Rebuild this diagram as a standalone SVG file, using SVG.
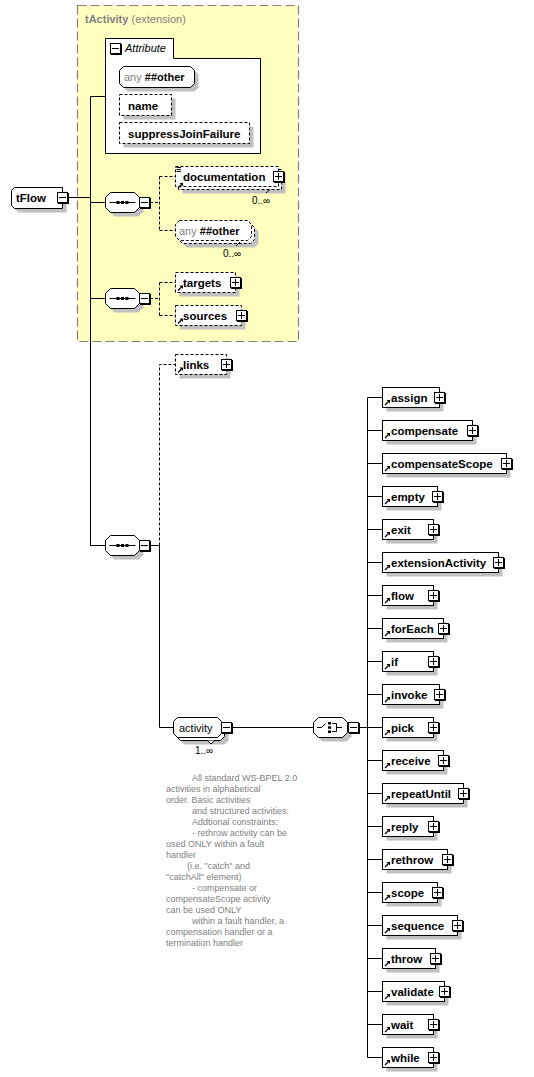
<svg xmlns="http://www.w3.org/2000/svg" xmlns:xlink="http://www.w3.org/1999/xlink" width="534" height="1077" viewBox="0 0 534 1077">
<style>
  text { font-family: "Liberation Sans", Arial, sans-serif; }
  .en { font-size: 11.5px; font-weight: bold; fill: #000; }
  .nm { font-size: 11px; fill: #000; }
  .gr { fill: #808080; }
  .occ { font-size: 10px; fill: #000; }
  .cm { font-size: 9px; fill: #808080; }
  .box { fill: #fff; stroke: #000; stroke-width: 1; }
  .dbox { fill: #fff; stroke: #000; stroke-width: 1; stroke-dasharray: 3,2; }
  .sh { fill: #c0c0c0; stroke: none; }
  .ln { fill: none; stroke: #000; stroke-width: 1; }
  .dl { fill: none; stroke: #000; stroke-width: 1; stroke-dasharray: 3,2; }
</style>
<defs>
  <g id="plus"><rect x="1" y="1" width="11" height="11" fill="#000"/><rect x="0.5" y="0.5" width="10" height="10" fill="#fff" stroke="#000"/><path d="M2,5.5H9M5.5,2V9" stroke="#000" fill="none"/></g>
  <g id="minus"><rect x="1" y="1" width="11" height="11" fill="#000"/><rect x="0.5" y="0.5" width="10" height="10" fill="#fff" stroke="#000"/><path d="M2,5.5H9" stroke="#000" fill="none"/></g>
  <g id="arr"><path d="M1,6.5L4.5,3" stroke="#000" stroke-width="1.2" fill="none"/><path d="M2.5,1.5H6V5Z" fill="#000"/></g>
  <g id="seq">
    <path class="sh" transform="translate(4,4)" d="M5,-10H29L34,-5V5L29,10H5L0,5V-5Z"/>
    <path class="box" d="M5,-10H29L34,-5V5L29,10H5L0,5V-5Z"/>
    <path class="ln" d="M4,0H30"/>
    <rect x="11" y="-1.5" width="3" height="3" fill="#000"/>
    <rect x="15.5" y="-1.5" width="3" height="3" fill="#000"/>
    <rect x="20" y="-1.5" width="3" height="3" fill="#000"/>
    <use xlink:href="#minus" x="33.5" y="-5.5"/>
  </g>
</defs>

<!-- tActivity extension area -->
<g id="tActivity">
  <rect x="77.5" y="5.5" width="221" height="336" fill="#ffffc0" stroke="#808080" stroke-width="1.2" stroke-dasharray="9,4"/>
  <text x="85" y="22.5" font-size="11px" class="gr"><tspan font-weight="bold">tActivity</tspan> (extension)</text>
</g>

<!-- connectors -->
<g id="connectors">
  <path class="ln" d="M68,197.5H90.5M90.5,96.5V545.5M90.5,96.5H105.5M90.5,202.5H105.5M90.5,298.5H105.5M90.5,545.5H105.5"/>
  <path class="dl" d="M150,202.5H159.5M159.5,176.5V230.5M159.5,176.5H175.5M159.5,230.5H175.5"/>
  <path class="dl" d="M150,298.5H159.5M159.5,282.5V315.5M159.5,282.5H175.5M159.5,315.5H175.5"/>
  <path class="dl" d="M159.5,545.5V364.5H175.5"/>
  <path class="ln" d="M150,545.5H159.5V727.5H173.5M232,727.5H313.5M359,727.5H367.5M367.5,397.5V1057.5"/>
  <path class="ln" d="M367.5,397.5H382.5M367.5,430.5H382.5M367.5,463.5H382.5M367.5,496.5H382.5M367.5,529.5H382.5M367.5,562.5H382.5M367.5,595.5H382.5M367.5,628.5H382.5M367.5,661.5H382.5M367.5,694.5H382.5M367.5,727.5H382.5M367.5,760.5H382.5M367.5,793.5H382.5M367.5,826.5H382.5M367.5,859.5H382.5M367.5,892.5H382.5M367.5,925.5H382.5M367.5,958.5H382.5M367.5,991.5H382.5M367.5,1024.5H382.5M367.5,1057.5H382.5"/>
</g>

<!-- root -->
<g id="tFlow">
  <path class="sh" transform="translate(4,4)" d="M14.5,187.5H62.5V208.5H14.5L11.5,205.5V190.5Z"/>
  <path class="box" d="M14.5,187.5H62.5V208.5H14.5L11.5,205.5V190.5Z"/>
  <text class="en" x="16" y="202">tFlow</text>
  <use xlink:href="#minus" x="57" y="192"/>
</g>

<!-- attributes -->
<g id="attributes">
  <path class="box" d="M105.5,58.5V38.5H173.5V58.5H260.5V153.5H105.5Z"/>
  <use xlink:href="#minus" x="110" y="43"/>
  <text x="125" y="52" font-size="11px" font-style="italic" fill="#000">Attribute</text>
</g>
<g id="attr-any">
  <path class="sh" transform="translate(4,4)" d="M123.5,66.5H190.5L194.5,70.5V83.5L190.5,87.5H123.5L119.5,83.5V70.5Z"/>
  <path class="box" d="M123.5,66.5H190.5L194.5,70.5V83.5L190.5,87.5H123.5L119.5,83.5V70.5Z"/>
  <text x="124" y="81" font-size="11px"><tspan class="gr">any</tspan> <tspan font-weight="bold" fill="#000">##other</tspan></text>
</g>
<g id="attr-name">
  <rect class="sh" x="123.5" y="98.5" width="52" height="21"/>
  <rect class="dbox" x="119.5" y="94.5" width="52" height="21"/>
  <text class="en" x="128" y="109.5">name</text>
</g>
<g id="attr-suppressJoinFailure">
  <rect class="sh" x="123.5" y="126.5" width="130" height="21"/>
  <rect class="dbox" x="119.5" y="122.5" width="130" height="21"/>
  <text class="en" x="128" y="137.5">suppressJoinFailure</text>
</g>

<!-- sequence 1 -->
<g id="seq1"><use xlink:href="#seq" transform="translate(105.5,202.5)"/></g>
<g id="documentation">
  <rect class="sh" x="182.5" y="173.5" width="103" height="20"/>
  <rect class="dbox" x="178.5" y="169.5" width="103" height="20"/>
  <rect class="dbox" x="175.5" y="166.5" width="103" height="20"/>
  <path class="ln" d="M176.5,167.5H181M176.5,169.5H181M176.5,171.5H181"/>
  <use xlink:href="#arr" x="177" y="181.5"/>
  <text class="en" x="183" y="181">documentation</text>
  <use xlink:href="#plus" x="273" y="171"/>
  <path class="ln" d="M266,193L270,189.5"/>
  <text class="occ" x="252" y="203.5">0..∞</text>
</g>
<g id="any-other">
  <path class="sh" transform="translate(7,7)" d="M179.5,220.5H247.5L251.5,224.5V236.5L247.5,240.5H179.5L175.5,236.5V224.5Z"/>
  <path class="dbox" transform="translate(3,3)" d="M179.5,220.5H247.5L251.5,224.5V236.5L247.5,240.5H179.5L175.5,236.5V224.5Z"/>
  <path class="dbox" d="M179.5,220.5H247.5L251.5,224.5V236.5L247.5,240.5H179.5L175.5,236.5V224.5Z"/>
  <text x="179" y="234.5" font-size="11px"><tspan class="gr">any</tspan> <tspan font-weight="bold" fill="#000">##other</tspan></text>
  <path class="ln" d="M236,246L240,242"/>
  <text class="occ" x="223" y="256.5">0..∞</text>
</g>

<!-- sequence 2 -->
<g id="seq2"><use xlink:href="#seq" transform="translate(105.5,298.5)"/></g>
<g id="targets">
  <rect class="sh" x="179.5" y="276.5" width="60" height="20"/>
  <rect class="dbox" x="175.5" y="272.5" width="60" height="20"/>
  <use xlink:href="#arr" x="177" y="284"/>
  <text class="en" x="183" y="287">targets</text>
  <use xlink:href="#plus" x="230" y="277"/>
</g>
<g id="sources">
  <rect class="sh" x="179.5" y="309.5" width="66" height="20"/>
  <rect class="dbox" x="175.5" y="305.5" width="66" height="20"/>
  <use xlink:href="#arr" x="177" y="317"/>
  <text class="en" x="183" y="320">sources</text>
  <use xlink:href="#plus" x="236" y="310"/>
</g>

<!-- links -->
<g id="links">
  <rect class="sh" x="179.5" y="358.5" width="51" height="20"/>
  <rect class="dbox" x="175.5" y="354.5" width="51" height="20"/>
  <use xlink:href="#arr" x="177" y="366"/>
  <text class="en" x="183" y="369">links</text>
  <use xlink:href="#plus" x="221" y="359"/>
</g>

<!-- sequence 3 -->
<g id="seq3"><use xlink:href="#seq" transform="translate(105.5,545.5)"/></g>

<!-- activity group -->
<g id="activity">
  <path class="sh" transform="translate(7,7)" d="M177.5,717.5H217.5L221.5,721.5V733.5L217.5,737.5H177.5L173.5,733.5V721.5Z"/>
  <path class="box" transform="translate(3,3)" d="M177.5,717.5H217.5L221.5,721.5V733.5L217.5,737.5H177.5L173.5,733.5V721.5Z"/>
  <path class="box" d="M177.5,717.5H217.5L221.5,721.5V733.5L217.5,737.5H177.5L173.5,733.5V721.5Z"/>
  <text class="nm" x="179" y="731.5">activity</text>
  <use xlink:href="#minus" x="221" y="722"/>
  <path class="box" d="M207.5,740.5L211,744L214.5,740.5"/>
  <text class="occ" x="195" y="754">1..∞</text>
</g>

<!-- choice -->
<g id="choice">
  <path class="sh" transform="translate(4,4)" d="M318.5,717.5H342.5L347.5,722.5V732.5L342.5,737.5H318.5L313.5,732.5V722.5Z"/>
  <path class="box" d="M318.5,717.5H342.5L347.5,722.5V732.5L342.5,737.5H318.5L313.5,732.5V722.5Z"/>
  <path class="ln" d="M317,727.5H321.5L325.5,723.5M332,723.5H336.5V731.5H332M336.5,727.5H342"/>
  <rect x="328" y="722" width="3" height="2.5" fill="#000"/>
  <rect x="328" y="726.3" width="3" height="2.5" fill="#000"/>
  <rect x="328" y="730.5" width="3" height="2.5" fill="#000"/>
  <use xlink:href="#minus" x="348" y="722"/>
</g>

<!-- annotation -->
<g id="annotation">
  <text class="cm" x="192" y="781">All standard WS-BPEL 2.0</text>
  <text class="cm" x="166" y="792">activities in alphabetical</text>
  <text class="cm" x="166" y="803">order. Basic activities</text>
  <text class="cm" x="192" y="814">and structured activities.</text>
  <text class="cm" x="192" y="825">Addtional constraints:</text>
  <text class="cm" x="192" y="836">- rethrow activity can be</text>
  <text class="cm" x="166" y="847">used ONLY within a fault</text>
  <text class="cm" x="166" y="858">handler</text>
  <text class="cm" x="187" y="869">(i.e. "catch" and</text>
  <text class="cm" x="166" y="880">"catchAll" element)</text>
  <text class="cm" x="192" y="891">- compensate or</text>
  <text class="cm" x="166" y="902">compensateScope activity</text>
  <text class="cm" x="166" y="913">can be used ONLY</text>
  <text class="cm" x="192" y="924">within a fault handler, a</text>
  <text class="cm" x="166" y="935">compensation handler or a</text>
  <text class="cm" x="166" y="946">termination handler</text>
</g>

<!-- choice members -->
<g id="assign"><rect class="sh" x="386.5" y="391.5" width="57" height="20"/><rect class="box" x="382.5" y="387.5" width="57" height="20"/><use xlink:href="#arr" x="384" y="398.5"/><text class="en" x="391" y="401.5">assign</text><use xlink:href="#plus" x="434" y="392"/></g>
<g id="compensate"><rect class="sh" x="386.5" y="424.5" width="90" height="20"/><rect class="box" x="382.5" y="420.5" width="90" height="20"/><use xlink:href="#arr" x="384" y="431.5"/><text class="en" x="391" y="434.5">compensate</text><use xlink:href="#plus" x="467" y="425"/></g>
<g id="compensateScope"><rect class="sh" x="386.5" y="457.5" width="124" height="20"/><rect class="box" x="382.5" y="453.5" width="124" height="20"/><use xlink:href="#arr" x="384" y="464.5"/><text class="en" x="391" y="467.5">compensateScope</text><use xlink:href="#plus" x="501" y="458"/></g>
<g id="empty"><rect class="sh" x="386.5" y="490.5" width="55" height="20"/><rect class="box" x="382.5" y="486.5" width="55" height="20"/><use xlink:href="#arr" x="384" y="497.5"/><text class="en" x="391" y="500.5">empty</text><use xlink:href="#plus" x="432" y="491"/></g>
<g id="exit"><rect class="sh" x="386.5" y="523.5" width="51" height="20"/><rect class="box" x="382.5" y="519.5" width="51" height="20"/><use xlink:href="#arr" x="384" y="530.5"/><text class="en" x="391" y="533.5">exit</text><use xlink:href="#plus" x="428" y="524"/></g>
<g id="extensionActivity"><rect class="sh" x="386.5" y="556.5" width="116" height="20"/><rect class="box" x="382.5" y="552.5" width="116" height="20"/><use xlink:href="#arr" x="384" y="563.5"/><text class="en" x="391" y="566.5">extensionActivity</text><use xlink:href="#plus" x="493" y="557"/></g>
<g id="flow"><rect class="sh" x="386.5" y="589.5" width="51" height="20"/><rect class="box" x="382.5" y="585.5" width="51" height="20"/><use xlink:href="#arr" x="384" y="596.5"/><text class="en" x="391" y="599.5">flow</text><use xlink:href="#plus" x="428" y="590"/></g>
<g id="forEach"><rect class="sh" x="386.5" y="622.5" width="61" height="20"/><rect class="box" x="382.5" y="618.5" width="61" height="20"/><use xlink:href="#arr" x="384" y="629.5"/><text class="en" x="391" y="632.5">forEach</text><use xlink:href="#plus" x="438" y="623"/></g>
<g id="if"><rect class="sh" x="386.5" y="655.5" width="51" height="20"/><rect class="box" x="382.5" y="651.5" width="51" height="20"/><use xlink:href="#arr" x="384" y="662.5"/><text class="en" x="391" y="665.5">if</text><use xlink:href="#plus" x="428" y="656"/></g>
<g id="invoke"><rect class="sh" x="386.5" y="688.5" width="57" height="20"/><rect class="box" x="382.5" y="684.5" width="57" height="20"/><use xlink:href="#arr" x="384" y="695.5"/><text class="en" x="391" y="698.5">invoke</text><use xlink:href="#plus" x="434" y="689"/></g>
<g id="pick"><rect class="sh" x="386.5" y="721.5" width="51" height="20"/><rect class="box" x="382.5" y="717.5" width="51" height="20"/><use xlink:href="#arr" x="384" y="728.5"/><text class="en" x="391" y="731.5">pick</text><use xlink:href="#plus" x="428" y="722"/></g>
<g id="receive"><rect class="sh" x="386.5" y="754.5" width="61" height="20"/><rect class="box" x="382.5" y="750.5" width="61" height="20"/><use xlink:href="#arr" x="384" y="761.5"/><text class="en" x="391" y="764.5">receive</text><use xlink:href="#plus" x="438" y="755"/></g>
<g id="repeatUntil"><rect class="sh" x="386.5" y="787.5" width="81" height="20"/><rect class="box" x="382.5" y="783.5" width="81" height="20"/><use xlink:href="#arr" x="384" y="794.5"/><text class="en" x="391" y="797.5">repeatUntil</text><use xlink:href="#plus" x="458" y="788"/></g>
<g id="reply"><rect class="sh" x="386.5" y="820.5" width="51" height="20"/><rect class="box" x="382.5" y="816.5" width="51" height="20"/><use xlink:href="#arr" x="384" y="827.5"/><text class="en" x="391" y="830.5">reply</text><use xlink:href="#plus" x="428" y="821"/></g>
<g id="rethrow"><rect class="sh" x="386.5" y="853.5" width="65" height="20"/><rect class="box" x="382.5" y="849.5" width="65" height="20"/><use xlink:href="#arr" x="384" y="860.5"/><text class="en" x="391" y="863.5">rethrow</text><use xlink:href="#plus" x="442" y="854"/></g>
<g id="scope"><rect class="sh" x="386.5" y="886.5" width="55" height="20"/><rect class="box" x="382.5" y="882.5" width="55" height="20"/><use xlink:href="#arr" x="384" y="893.5"/><text class="en" x="391" y="896.5">scope</text><use xlink:href="#plus" x="432" y="887"/></g>
<g id="sequence"><rect class="sh" x="386.5" y="919.5" width="75" height="20"/><rect class="box" x="382.5" y="915.5" width="75" height="20"/><use xlink:href="#arr" x="384" y="926.5"/><text class="en" x="391" y="929.5">sequence</text><use xlink:href="#plus" x="452" y="920"/></g>
<g id="throw"><rect class="sh" x="386.5" y="952.5" width="53" height="20"/><rect class="box" x="382.5" y="948.5" width="53" height="20"/><use xlink:href="#arr" x="384" y="959.5"/><text class="en" x="391" y="962.5">throw</text><use xlink:href="#plus" x="430" y="953"/></g>
<g id="validate"><rect class="sh" x="386.5" y="985.5" width="62" height="20"/><rect class="box" x="382.5" y="981.5" width="62" height="20"/><use xlink:href="#arr" x="384" y="992.5"/><text class="en" x="391" y="995.5">validate</text><use xlink:href="#plus" x="439" y="986"/></g>
<g id="wait"><rect class="sh" x="386.5" y="1018.5" width="51" height="20"/><rect class="box" x="382.5" y="1014.5" width="51" height="20"/><use xlink:href="#arr" x="384" y="1025.5"/><text class="en" x="391" y="1028.5">wait</text><use xlink:href="#plus" x="428" y="1019"/></g>
<g id="while"><rect class="sh" x="386.5" y="1051.5" width="51" height="20"/><rect class="box" x="382.5" y="1047.5" width="51" height="20"/><use xlink:href="#arr" x="384" y="1058.5"/><text class="en" x="391" y="1061.5">while</text><use xlink:href="#plus" x="428" y="1052"/></g>
</svg>
